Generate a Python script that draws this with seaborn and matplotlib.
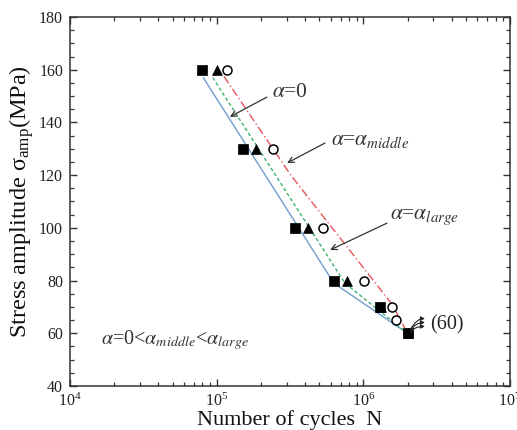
"""S-N curves for three alpha values, drawn with seaborn."""

import numpy as np
import pandas as pd
import matplotlib
matplotlib.use("Agg")
from matplotlib import pyplot as plt
from matplotlib import ticker
import seaborn as sns

# experimental points (stress amplitude in MPa, cycles to failure)
stress_sq = [160, 130, 100, 80, 70, 60]
cycles_sq = [8.0e4, 1.52e5, 3.4e5, 6.3e5, 1.3e6, 2.0e6]
stress_tri = [160, 130, 100, 80, 70, 60]
cycles_tri = [1.0e5, 1.85e5, 4.2e5, 7.7e5, 1.32e6, 2.0e6]
stress_circ = [160, 130, 100, 80, 70, 65, 60]
cycles_circ = [1.17e5, 2.41e5, 5.33e5, 1.01e6, 1.56e6, 1.66e6, 2.0e6]

# fitted curves
fit_a0_n = [8.1e4, 6.3e5, 2.0e6]
fit_a0_s = [157, 79, 60]
fit_large_n = [9.4e4, 7.5e5, 2.0e6]
fit_large_s = [157, 79, 60]
fit_mid_n = [1.12e5, 3.2e5, 1.57e6, 2.0e6]
fit_mid_s = [157.5, 120, 71, 60]

sns.set_style("ticks")
plt.rcParams["font.family"] = ["Liberation Serif", "DejaVu Serif"]
plt.rcParams["mathtext.fontset"] = "stix"
plt.rcParams["axes.linewidth"] = 1.1

fig = plt.figure(figsize=(5.17, 4.30), dpi=100)
ax = fig.add_axes([0.1354, 0.1023, 0.8511, 0.8582])

fits = [
    (fit_a0_n, fit_a0_s, "#6f9fcf", "-"),
    (fit_large_n, fit_large_s, "#3bb36a", (0, (2.5, 1.8))),
    (fit_mid_n, fit_mid_s, "#e8555f", (0, (6, 2, 1, 2))),
]
for n, s, color, style in fits:
    sns.lineplot(
        x=n, y=s, ax=ax, color=color, linestyle=style, linewidth=1.0,
        sort=False, estimator=None,
    )

points = pd.DataFrame(
    {
        "cycles": cycles_circ + cycles_tri + cycles_sq,
        "stress": stress_circ + stress_tri + stress_sq,
        "kind": ["circ"] * len(cycles_circ)
        + ["tri"] * len(cycles_tri)
        + ["sq"] * len(cycles_sq),
    }
)
styles = {
    "circ": dict(marker="o", facecolor="white", edgecolor="black", s=42, linewidth=1.1),
    "tri": dict(marker="^", facecolor="black", edgecolor="black", s=50, linewidth=0.5),
    "sq": dict(marker="s", facecolor="black", edgecolor="black", s=48, linewidth=0.5),
}
for kind, kw in styles.items():
    sub = points[points["kind"] == kind]
    sns.scatterplot(data=sub, x="cycles", y="stress", ax=ax, zorder=3, **kw)

ax.set_xscale("log")
ax.set_xlim(1e4, 1e7)
ax.set_ylim(40, 180)
ax.yaxis.set_major_locator(ticker.MultipleLocator(20))
ax.yaxis.set_minor_locator(ticker.MultipleLocator(5))
ax.xaxis.set_minor_locator(ticker.LogLocator(base=10, subs=np.arange(2, 10)))
ax.xaxis.set_minor_formatter(ticker.NullFormatter())
ax.tick_params(which="both", direction="in", top=True, right=True, colors="#333333")
ax.tick_params(which="major", length=5, width=1.0, labelsize=11.5, pad=5, labelcolor="#222222")
ax.tick_params(which="minor", length=3, width=0.9)
for sp in ax.spines.values():
    sp.set_color("#333333")

ax.set_xlabel("Number of cycles  N", fontsize=16, labelpad=0, color="#111111")
ax.set_ylabel(r"Stress amplitude $\mathregular{\sigma_{amp}}$(MPa)", fontsize=17.5,
              labelpad=2, color="#111111")

# labels with arrows pointing at the curves
arrow = dict(arrowstyle="->", color="#333333", lw=0.9, shrinkA=0, shrinkB=0)
ax.annotate("", xy=(1.23e5, 142.1), xytext=(2.2e5, 149.6), arrowprops=arrow)
ax.text(3.16e5, 151.5, r"$\alpha$=0", fontsize=15.5, ha="center", va="center", color="#333333")
ax.annotate("", xy=(3.02e5, 124.6), xytext=(5.48e5, 132.2), arrowprops=arrow)
ax.text(1.11e6, 133.3, r"$\alpha$=$\alpha_{middle}$", fontsize=15.5, ha="center",
        va="center", color="#333333")
ax.annotate("", xy=(5.93e5, 91.6), xytext=(1.45e6, 101.8), arrowprops=arrow)
ax.text(2.63e6, 104.1, r"$\alpha$=$\alpha_{large}$", fontsize=15.5, ha="center",
        va="center", color="#333333")
ax.text(5.2e4, 57.5, r"$\alpha$=0<$\alpha_{middle}$<$\alpha_{large}$", fontsize=14.5,
        ha="center", va="center", color="#333333")

# run-out arrows at 60 MPa
runout = dict(arrowstyle="-|>", color="#222222", lw=0.8, mutation_scale=6,
              shrinkA=0, shrinkB=0, connectionstyle="angle3,angleA=60,angleB=0")
for y0, y1 in [(61.6, 65.6), (61.0, 64.1), (60.4, 62.6)]:
    ax.annotate("", xy=(2.63e6, y1), xytext=(2.1e6, y0), arrowprops=runout)
ax.text(2.85e6, 63.2, "(60)", fontsize=14.5, ha="left", va="center", color="#222222")

fig.savefig("out.png", dpi=100)
